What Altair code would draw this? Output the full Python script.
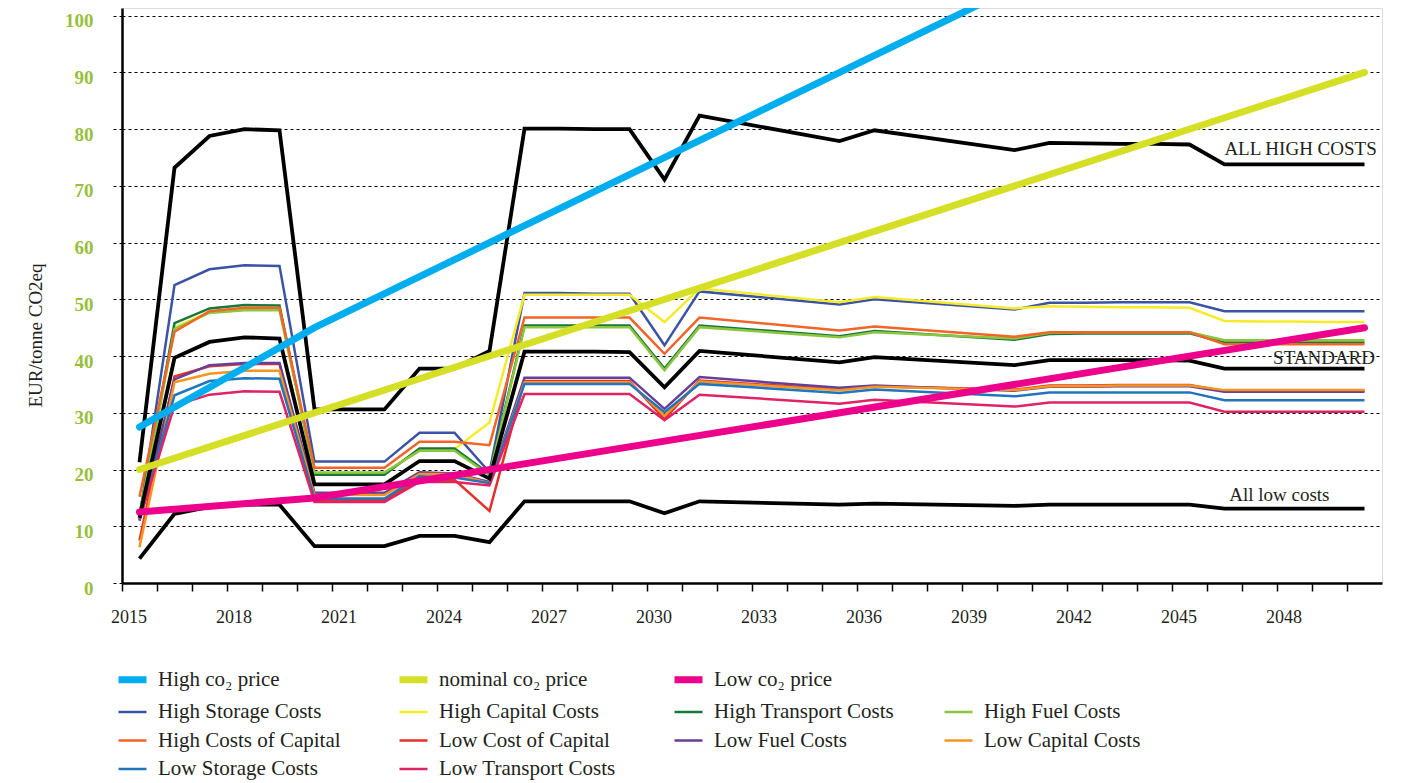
import altair as alt
import pandas as pd

N = None
years = list(range(2015, 2051))

# ---- scenario lines (EUR/tonne CO2eq), None = no visible vertex at that year
all_high = [21.3, 73.2, 78.8, 80.0, 79.8, 30.6, 30.6, 30.6, 37.8, 37.8, 40.9, 80.1, 80.1, 80.0, 80.0, 71.1, 82.4, N, N, N,
            77.9, 79.8, N, N, N, 76.3, 77.6, 77.5, 77.4, 77.4, 77.3, 73.8, 73.8, 73.8, 73.8, 73.8]
standard = [11.5, 39.7, 42.5, 43.3, 43.1, 17.4, 17.4, 17.4, 21.5, 21.5, 18.4, 40.8, 40.8, 40.8, 40.7, 34.5, 40.9, N, N, N,
            38.9, 39.8, N, N, N, 38.4, 39.3, 39.3, 39.3, 39.3, 39.2, 37.8, 37.8, 37.8, 37.8, 37.8]
all_low = [4.3, 12.2, 13.4, 13.8, 13.8, 6.5, 6.5, 6.5, 8.3, 8.3, 7.2, 14.4, 14.4, 14.4, 14.4, 12.3, 14.4, N, N, N,
           13.8, 14.0, N, N, N, 13.6, 13.8, 13.8, 13.8, 13.8, 13.8, 13.1, 13.1, 13.1, 13.1, 13.1]

high_storage = [11.5, 52.5, 55.3, 56.0, 55.9, 21.4, 21.4, 21.4, 26.5, 26.5, 19.5, 51.1, 51.1, 51.0, 51.0, 41.9, 51.4, N, N, N,
                49.1, 50.0, N, N, N, 48.2, 49.4, 49.4, 49.5, 49.5, 49.5, 47.9, 47.9, 47.9, 47.9, 47.9]
high_capital = [12.0, 45.0, 47.8, 48.3, 48.3, 19.3, 19.3, 19.3, 23.6, 23.6, 28.3, 50.8, 50.8, 50.8, 50.8, 46.0, 51.9, N, N, N,
                49.5, 50.4, N, N, N, 48.4, 48.8, 48.7, 48.6, 48.6, 48.5, 46.2, 46.1, 46.1, 46.0, 46.0]
high_transport = [12.0, 45.8, 48.4, 49.0, 48.9, 19.1, 19.1, 19.1, 23.7, 23.7, 19.2, 45.4, 45.4, 45.4, 45.4, 37.8, 45.4, N, N, N,
                  43.5, 44.4, N, N, N, 42.9, 43.9, 44.0, 44.0, 44.0, 44.0, 42.4, 42.4, 42.4, 42.4, 42.4]
high_fuel = [11.8, 44.8, 47.6, 48.1, 48.1, 19.5, 19.5, 19.5, 23.3, 23.3, 19.0, 45.1, 45.1, 45.1, 45.1, 37.5, 45.1, N, N, N,
             43.3, 44.2, N, N, N, 43.1, 44.1, 44.2, 44.2, 44.2, 44.2, 42.8, 42.8, 42.8, 42.8, 42.8]
high_coc = [15.2, 44.3, 47.9, 48.5, 48.5, 20.3, 20.3, 20.3, 24.9, 24.9, 24.3, 46.8, 46.8, 46.8, 46.8, 40.4, 46.8, N, N, N,
            44.5, 45.2, N, N, N, 43.4, 44.2, 44.2, 44.2, 44.2, 44.2, 42.1, 42.1, 42.1, 42.1, 42.1]
low_coc = [7.5, 36.4, 38.2, 38.6, 38.6, 14.6, 14.6, 14.6, 18.2, 18.2, 12.7, 35.6, 35.6, 35.6, 35.6, 28.9, 35.7, N, N, N,
           34.1, 34.7, N, N, N, 34.1, 34.8, 34.8, 34.9, 34.9, 34.9, 33.8, 33.8, 33.8, 33.9, 33.9]
low_fuel = [11.0, 35.9, 38.4, 38.8, 38.8, 15.9, 15.9, 15.9, 19.5, 19.3, 17.8, 36.2, 36.2, 36.2, 36.2, 30.7, 36.3, N, N, N,
            34.4, 34.8, N, N, N, 33.9, 34.6, 34.6, 34.7, 34.7, 34.7, 33.7, 33.7, 33.7, 33.7, 33.7]
low_capital = [6.3, 35.4, 36.9, 37.4, 37.4, 15.5, 15.5, 15.5, 19.2, 19.2, 17.6, 35.4, 35.4, 35.4, 35.4, 29.5, 35.5, N, N, N,
               34.0, 34.6, N, N, N, 34.0, 34.7, 34.7, 34.8, 34.8, 34.8, 34.0, 34.0, 34.0, 34.0, 34.0]
low_storage = [11.0, 33.1, 35.6, 36.1, 36.0, 14.9, 14.9, 14.9, 18.8, 18.6, 17.6, 35.1, 35.1, 35.1, 35.1, 30.1, 35.1, N, N, N,
               33.5, 34.1, N, N, N, 32.9, 33.6, 33.6, 33.6, 33.6, 33.6, 32.2, 32.2, 32.2, 32.2, 32.2]
low_transport = [11.2, 31.3, 33.2, 33.8, 33.7, 14.3, 14.3, 14.3, 17.8, 17.8, 17.2, 33.3, 33.3, 33.3, 33.3, 28.7, 33.2, N, N, N,
                 31.6, 32.3, N, N, N, 31.1, 31.8, 31.8, 31.8, 31.8, 31.8, 30.2, 30.2, 30.2, 30.2, 30.2]

# ---- CO2 price paths (straight segments between these points)
high_price = [27.5, N, N, N, N, 45.0] + [N] * 19 + [105.0] + [N] * 10
nominal_price = [20.0] + [N] * 34 + [90.0]
low_price = [12.5, N, N, N, N, 15.0] + [N] * 29 + [45.0]

black_names = ["ALL HIGH COSTS", "STANDARD", "All low costs"]
price_names = ["High co₂ price", "nominal co₂ price", "Low co₂ price"]
price_colors = ["#00aeef", "#d5df26", "#ec008c"]
cost_names = ["High Storage Costs", "High Capital Costs", "High Transport Costs", "High Fuel Costs",
              "High Costs of Capital", "Low Cost of Capital", "Low Fuel Costs", "Low Capital Costs",
              "Low Storage Costs", "Low Transport Costs"]
cost_colors = ["#3a53a4", "#f6eb2a", "#16783a", "#8cc63f", "#f26526", "#e6312b", "#653f98", "#f7941d",
               "#1f76bd", "#df2461"]

label_text = ["ALL HIGH COSTS", "STANDARD", "All low costs"]
label_year = [2050.35, 2050.3, 2049.0]
label_value = [76.5, 39.6, 15.5]


def to_long(names, arrays):
    rows = []
    for name, arr in zip(names, arrays):
        for yr, v in zip(years, arr):
            if v is not None:
                rows.append({"year": yr, "value": v, "series": name})
    return pd.DataFrame(rows)


black_df = to_long(black_names, [all_high, standard, all_low])
cost_df = to_long(cost_names, [high_storage, high_capital, high_transport, high_fuel, high_coc,
                               low_coc, low_fuel, low_capital, low_storage, low_transport])
price_df = to_long(price_names, [high_price, nominal_price, low_price])
label_df = pd.DataFrame({"label": label_text, "year": label_year, "value": label_value})

FONT = "Liberation Serif"
blank = " "
legend_domain = price_names + [blank] + cost_names
legend_range = price_colors + ["rgba(0,0,0,0)"] + cost_colors
color_scale = alt.Scale(domain=legend_domain, range=legend_range)

thick_expr = "indexof(['High co₂ price','nominal co₂ price','Low co₂ price'], datum.value) >= 0 ? 7 : 2.5"
legend = alt.Legend(
    orient="none", legendX=0, legendY=661, columns=4, direction="horizontal", padding=0,
    symbolType="stroke", symbolSize=784, symbolStrokeWidth={"expr": thick_expr},
    labelFont=FONT, labelFontSize=21, labelColor="#231f20", labelLimit=400, labelOffset=15,
    columnPadding=44, rowPadding=6.5,
)

x_enc = alt.X(
    "year:Q",
    scale=alt.Scale(domain=[2014.5, 2050.5], nice=False, zero=False),
    axis=alt.Axis(
        values=list(range(2015, 2052)), tickOffset=-17.5, labelOffset=6.5, format="d",
        labelExpr="(datum.value - 2015) % 3 == 0 && datum.value <= 2050 ? datum.label : ''",
        grid=False, domainColor="black", domainWidth=2.5, tickColor="black", tickWidth=1.5, tickSize=8,
        labelFont=FONT, labelFontSize=18, labelColor="#231f20", labelPadding=17, labelAngle=0,
        labelFlush=False, labelOverlap=False, title=None,
    ),
)
y_enc = alt.Y(
    "value:Q",
    scale=alt.Scale(domain=[0, 101.36], nice=False),
    axis=alt.Axis(
        values=list(range(0, 101, 10)), grid=True, gridColor="black", gridDash=[3, 3], gridWidth=1.2,
        domainColor="black", domainWidth=2.5, tickColor="black", tickDash=[3, 3], tickSize=9, tickWidth=1.2,
        labelFont=FONT, labelFontWeight="bold", labelFontSize=19, labelColor="#97bf3d", labelPadding=20,
        labelOffset=5,
        title="EUR/tonne CO2eq", titleFont=FONT, titleFontSize=19, titleFontWeight="normal",
        titleColor="#231f20", titleX=-87, titleY=327, titleAngle=270, titleAlign="center",
        titleBaseline="middle",
    ),
)

cost_layer = alt.Chart(cost_df).mark_line(strokeWidth=2.5, clip=True).encode(
    x=x_enc, y=y_enc,
    color=alt.Color("series:N", scale=color_scale, legend=legend, title=None),
)
black_layer = alt.Chart(black_df).mark_line(strokeWidth=3.8, color="black", clip=True).encode(
    x=x_enc, y=y_enc, detail="series:N",
)
price_layer = alt.Chart(price_df).mark_line(strokeWidth=7, strokeCap="round", clip=True).encode(
    x=x_enc, y=y_enc,
    color=alt.Color("series:N", scale=color_scale, legend=legend, title=None),
)
text_layer = alt.Chart(label_df).mark_text(
    align="right", baseline="middle", font=FONT, fontSize=19, color="#231f20"
).encode(x=x_enc, y=y_enc, text="label:N")

chart = alt.layer(cost_layer, black_layer, price_layer, text_layer).properties(
    width=1260, height=575,
    autosize=alt.AutoSizeParams(type="none"),
    padding={"left": 114, "top": 0, "right": 14, "bottom": 200},
).configure_view(fill="#e6e7e8", strokeWidth=0).configure(font=FONT)

chart.save("out.html", embed_options={"renderer": "svg", "actions": False})
